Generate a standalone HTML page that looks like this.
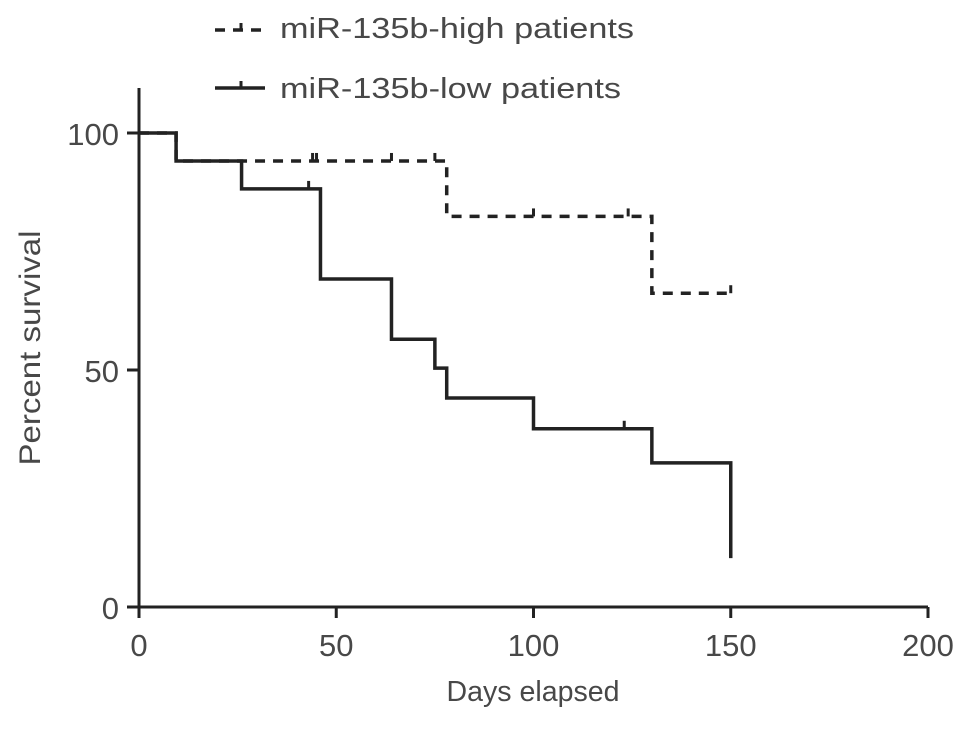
<!DOCTYPE html>
<html><head><meta charset="utf-8"><style>
body{margin:0;background:#fff}
svg text{font-family:"Liberation Sans",Arial,sans-serif;fill:#484848}
</style></head><body>
<svg id="chart" width="969" height="725" viewBox="0 0 969 725" xmlns="http://www.w3.org/2000/svg">
<g id="axes"></g><g id="series"></g>
<g>
<line x1="215" y1="30" x2="265" y2="30" stroke="#222" stroke-width="3.5" stroke-dasharray="10,8"/>
<line x1="241" y1="30" x2="241" y2="23" stroke="#222" stroke-width="3"/>
<text x="280" y="38" font-size="29" textLength="354" lengthAdjust="spacingAndGlyphs">miR-135b-high patients</text>
<line x1="215" y1="88" x2="265" y2="88" stroke="#222" stroke-width="3.5"/>
<line x1="241" y1="88" x2="241" y2="81" stroke="#222" stroke-width="3"/>
<text x="280" y="98" font-size="29" textLength="341" lengthAdjust="spacingAndGlyphs">miR-135b-low patients</text>
</g>
<text font-size="30" text-anchor="middle" textLength="235" lengthAdjust="spacingAndGlyphs" transform="translate(40,348) rotate(-90)">Percent survival</text>
<text font-size="29" text-anchor="middle" textLength="173" lengthAdjust="spacingAndGlyphs" x="533" y="701">Days elapsed</text>
</svg>
<script>
const xTicks=[0,50,100,150,200];
const yTicks=[0,50,100];
const lowTimes=[0,9.4,26,46,64,75,78,100,130,150];
const lowValues=[100,94.1,88.2,69.2,56.5,50.4,44.1,37.6,30.4,10.3];
const lowCensor=[43,123];
const highTimes=[0,9.4,78,130,150];
const highValues=[100,94.1,82.4,66.2,66.2];
const highCensor=[44,45,64,75,100,124,150];
const NS='http://www.w3.org/2000/svg';
const X=d=>139+d*(928-139)/200;
const Y=v=>607-v*(607-133)/100;
const axes=document.getElementById('axes'),series=document.getElementById('series');
function mk(tag,attrs,parent){const e=document.createElementNS(NS,tag);for(const k in attrs)e.setAttribute(k,attrs[k]);parent.appendChild(e);return e;}
let e=mk('line',{x1:139,y1:88,x2:139,y2:608,stroke:'#222','stroke-width':3},axes);


e=mk('line',{x1:138,y1:607,x2:928,y2:607,stroke:'#222','stroke-width':3},axes);


xTicks.forEach(t=>{
  mk('line',{x1:X(t),y1:607,x2:X(t),y2:618,stroke:'#222','stroke-width':3},axes);
  const tx=mk('text',{x:X(t),y:656,'font-size':31,'text-anchor':'middle'},axes);tx.textContent=t;
  
  
});
yTicks.forEach(t=>{
  mk('line',{x1:127,y1:Y(t),x2:139,y2:Y(t),stroke:'#222','stroke-width':3},axes);
  const tx=mk('text',{x:119,y:Y(t)+12,'font-size':31,'text-anchor':'end'},axes);tx.textContent=t;
  
  
});
function stepAt(times,vals,d){let v=vals[0];for(let i=0;i<times.length;i++)if(times[i]<=d)v=vals[i];return v;}
function draw(times,vals,censor,dash,name){
  let d='M'+X(times[0])+','+Y(vals[0]);
  for(let i=1;i<times.length;i++){d+=' H'+X(times[i])+' V'+Y(vals[i]);}
  const p=mk('path',{d:d,fill:'none',stroke:'#222','stroke-width':3.5,'stroke-dasharray':dash||'none'},series);
  
  
  censor.forEach(c=>{const v=stepAt(times,vals,c);
    const m=mk('line',{x1:X(c),y1:Y(v),x2:X(c),y2:Y(v)-8,stroke:'#222','stroke-width':3},series);
    
    });
}
draw(highTimes,highValues,highCensor,'10,8','high-series-line');
draw(lowTimes,lowValues,lowCensor,null,'low-series-line');
</script>
</body></html>
